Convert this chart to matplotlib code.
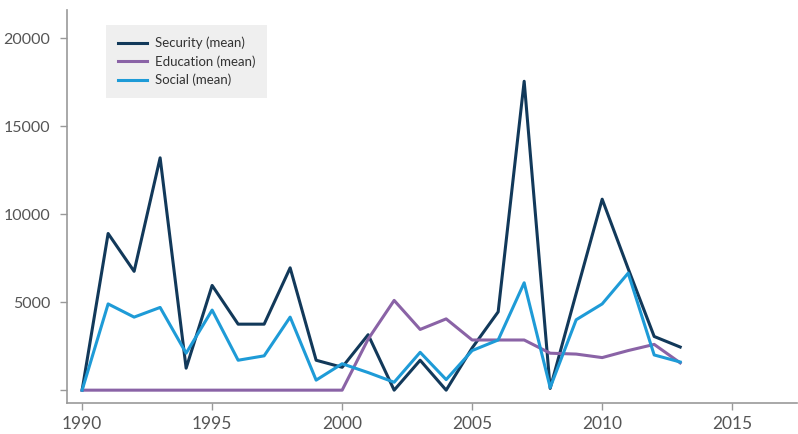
import matplotlib.pyplot as plt

# data
years = list(range(1990, 2014))
security = [0, 8900, 6750, 13200, 1250, 5950, 3750, 3750, 6950, 1700, 1300, 3150,
            0, 1700, 0, 2400, 4450, 17550, 100, 5500, 10850, 6900, 3050, 2450]
education = [0, 0, 0, 0, 0, 0, 0, 0, 0, 0, 0, 2900,
             5100, 3450, 4050, 2850, 2850, 2850, 2100, 2050, 1850, 2250, 2600, 1550]
social = [0, 4900, 4150, 4700, 2100, 4550, 1700, 1950, 4150, 570, 1500, 1000,
          450, 2150, 600, 2250, 2850, 6100, 150, 4000, 4900, 6650, 2000, 1600]

xticks = [1990, 1995, 2000, 2005, 2010, 2015]
yticks = [0, 5000, 10000, 15000, 20000]
ylabels = ['', '5000', '10000', '15000', '20000']

plt.rcParams['font.family'] = ['Lato', 'DejaVu Sans']

fig = plt.figure(figsize=(7.98, 4.34), dpi=100)
ax = fig.add_axes([0.084, 0.071, 0.915, 0.906])

ax.plot(years, security, color='#12395a', lw=2.2, label='Security (mean)')
ax.plot(years, education, color='#8a63a6', lw=2.2, label='Education (mean)')
ax.plot(years, social, color='#1e9bd7', lw=2.2, label='Social (mean)')

ax.set_xlim(1989.42, 2017.5)
ax.set_ylim(-740, 21600)
ax.set_xticks(xticks)
ax.set_yticks(yticks)
ax.set_yticklabels(ylabels)

for s in ['top', 'right']:
    ax.spines[s].set_visible(False)
for s in ['left', 'bottom']:
    ax.spines[s].set_color('#999999')
    ax.spines[s].set_linewidth(1.2)
ax.tick_params(colors='#999999', labelcolor='#555555', length=5, width=1)
ax.tick_params(axis='y', labelsize=11.5, pad=7)
ax.tick_params(axis='x', labelsize=12.5, pad=4)

leg = ax.legend(loc='upper left', bbox_to_anchor=(0.053, 0.962), borderaxespad=0,
                fontsize=9.5, frameon=True, fancybox=False, facecolor='#efefef',
                edgecolor='none', framealpha=1, handlelength=2.2, handletextpad=0.6,
                labelspacing=0.45, borderpad=0.9)
for t in leg.get_texts():
    t.set_color('#333333')

fig.savefig('out.png', dpi=100)
